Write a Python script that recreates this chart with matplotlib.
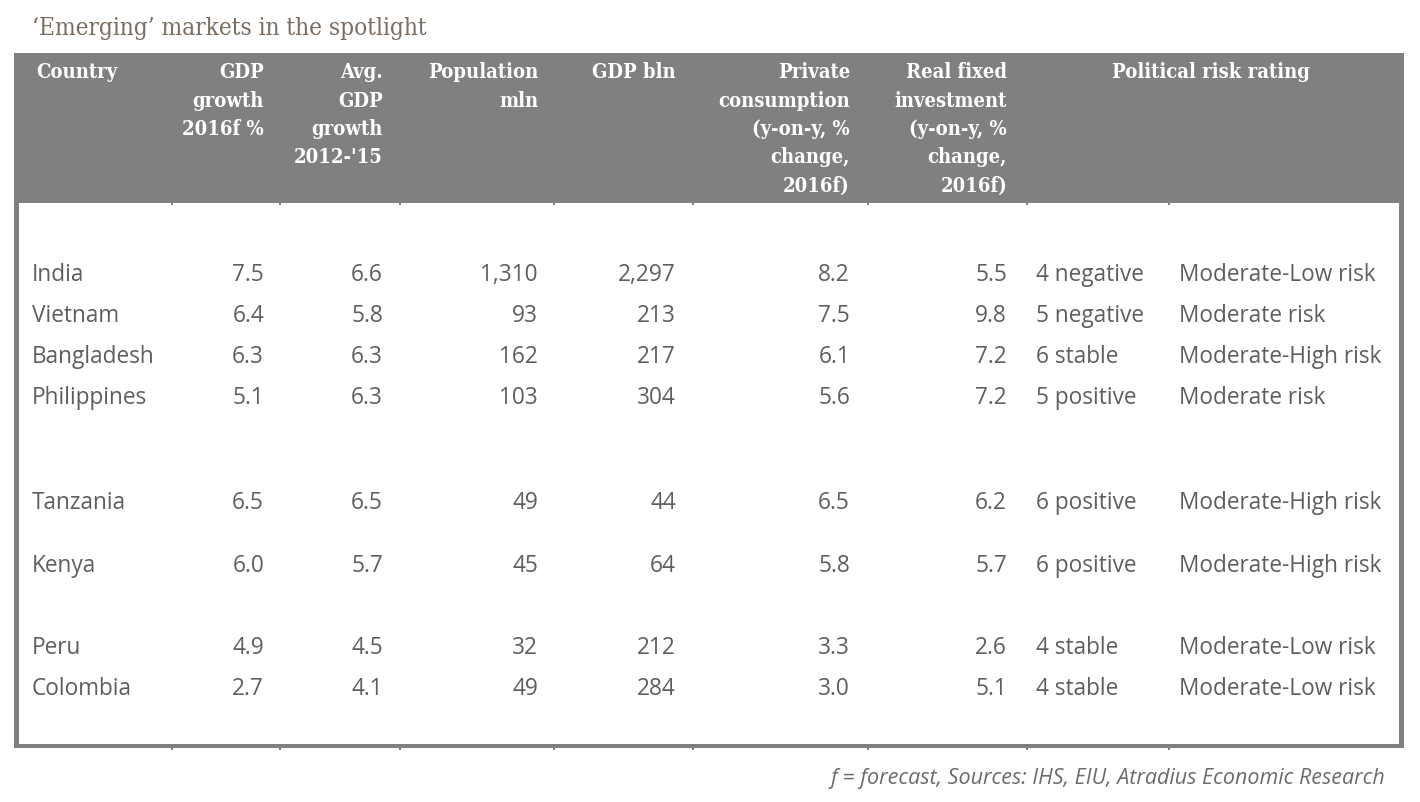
import matplotlib
matplotlib.use('Agg')
import matplotlib.pyplot as plt
from matplotlib.patches import Rectangle

# table content
countries = ['India', 'Vietnam', 'Bangladesh', 'Philippines',
             'Tanzania', 'Kenya', 'Peru', 'Colombia']
gdp_2016 = ['7.5', '6.4', '6.3', '5.1', '6.5', '6.0', '4.9', '2.7']
gdp_avg = ['6.6', '5.8', '6.3', '6.3', '6.5', '5.7', '4.5', '4.1']
population = ['1,310', '93', '162', '103', '49', '45', '32', '49']
gdp_bln = ['2,297', '213', '217', '304', '44', '64', '212', '284']
consumption = ['8.2', '7.5', '6.1', '5.6', '6.5', '5.8', '3.3', '3.0']
investment = ['5.5', '9.8', '7.2', '7.2', '6.2', '5.7', '2.6', '5.1']
risk_score = ['4 negative', '5 negative', '6 stable', '5 positive',
              '6 positive', '6 positive', '4 stable', '4 stable']
risk_label = ['Moderate-Low risk', 'Moderate risk', 'Moderate-High risk',
              'Moderate risk', 'Moderate-High risk', 'Moderate-High risk',
              'Moderate-Low risk', 'Moderate-Low risk']

headers = [
    ['Country'],
    ['GDP', 'growth', '2016f %'],
    ['Avg.', 'GDP', 'growth', "2012-'15"],
    ['Population', 'mln'],
    ['GDP bln'],
    ['Private', 'consumption', '(y-on-y, %', 'change,', '2016f)'],
    ['Real fixed', 'investment', '(y-on-y, %', 'change,', '2016f)'],
    ['Political risk rating'],
]

title = '\u2018Emerging\u2019 markets in the spotlight'
footnote = 'f = forecast, Sources: IHS, EIU, Atradius Economic Research'

# layout (pixels)
W, H = 1420, 803
row_y = [275, 316, 357, 398, 503, 566, 648, 689]
num_right = [264, 383, 538, 676, 850, 1007]
head_x = [(36, 'left'), (264, 'right'), (383, 'right'), (538, 'right'),
          (676, 'right'), (850, 'right'), (1007, 'right'), (1211, 'center')]
head_y0, head_dy = 72.5, 28.3
ticks_x = [172, 280, 400, 554, 693, 868, 1027, 1169]

grey = '#808080'
body_col = '#5e5e5e'
serif = 'DejaVu Serif'
sans = 'Open Sans'
body_size = 16.3

fig = plt.figure(figsize=(W / 100, H / 100), dpi=100)
ax = fig.add_axes([0, 0, 1, 1])
ax.set_xlim(0, W)
ax.set_ylim(H, 0)
ax.axis('off')

# frame and header band
ax.add_patch(Rectangle((14, 54), 1390, 150, color=grey, lw=0))
ax.add_patch(Rectangle((14, 54), 5, 695, color=grey, lw=0))
ax.add_patch(Rectangle((1399, 54), 5, 695, color=grey, lw=0))
ax.add_patch(Rectangle((14, 745), 1390, 4, color=grey, lw=0))
for tx in ticks_x:
    ax.add_patch(Rectangle((tx - 1, 204), 2, 2, color=grey, lw=0))
    ax.add_patch(Rectangle((tx - 1, 749), 2, 2, color=grey, lw=0))

ax.text(32, 28, title, fontsize=17.5, family=serif, stretch='condensed',
        color='#7a6d62', ha='left', va='center')

for (hx, ha), lines in zip(head_x, headers):
    for k, line in enumerate(lines):
        ax.text(hx, head_y0 + k * head_dy, line, fontsize=14.5, family=serif,
                stretch='condensed', weight='bold', color='white',
                ha=ha, va='center')

columns = [gdp_2016, gdp_avg, population, gdp_bln, consumption, investment]
for i, y in enumerate(row_y):
    ax.text(32, y, countries[i], fontsize=body_size, family=sans,
            color=body_col, ha='left', va='center')
    for x, col in zip(num_right, columns):
        ax.text(x, y, col[i], fontsize=body_size, family=sans,
                color=body_col, ha='right', va='center')
    ax.text(1036, y, risk_score[i], fontsize=body_size, family=sans,
            color=body_col, ha='left', va='center')
    ax.text(1179, y, risk_label[i], fontsize=body_size, family=sans,
            color=body_col, ha='left', va='center')

ax.text(1385, 779, footnote, fontsize=15.5, family=sans, style='italic',
        color='#6b6b6b', ha='right', va='center')

fig.savefig('out.png', dpi=100, facecolor='white')
